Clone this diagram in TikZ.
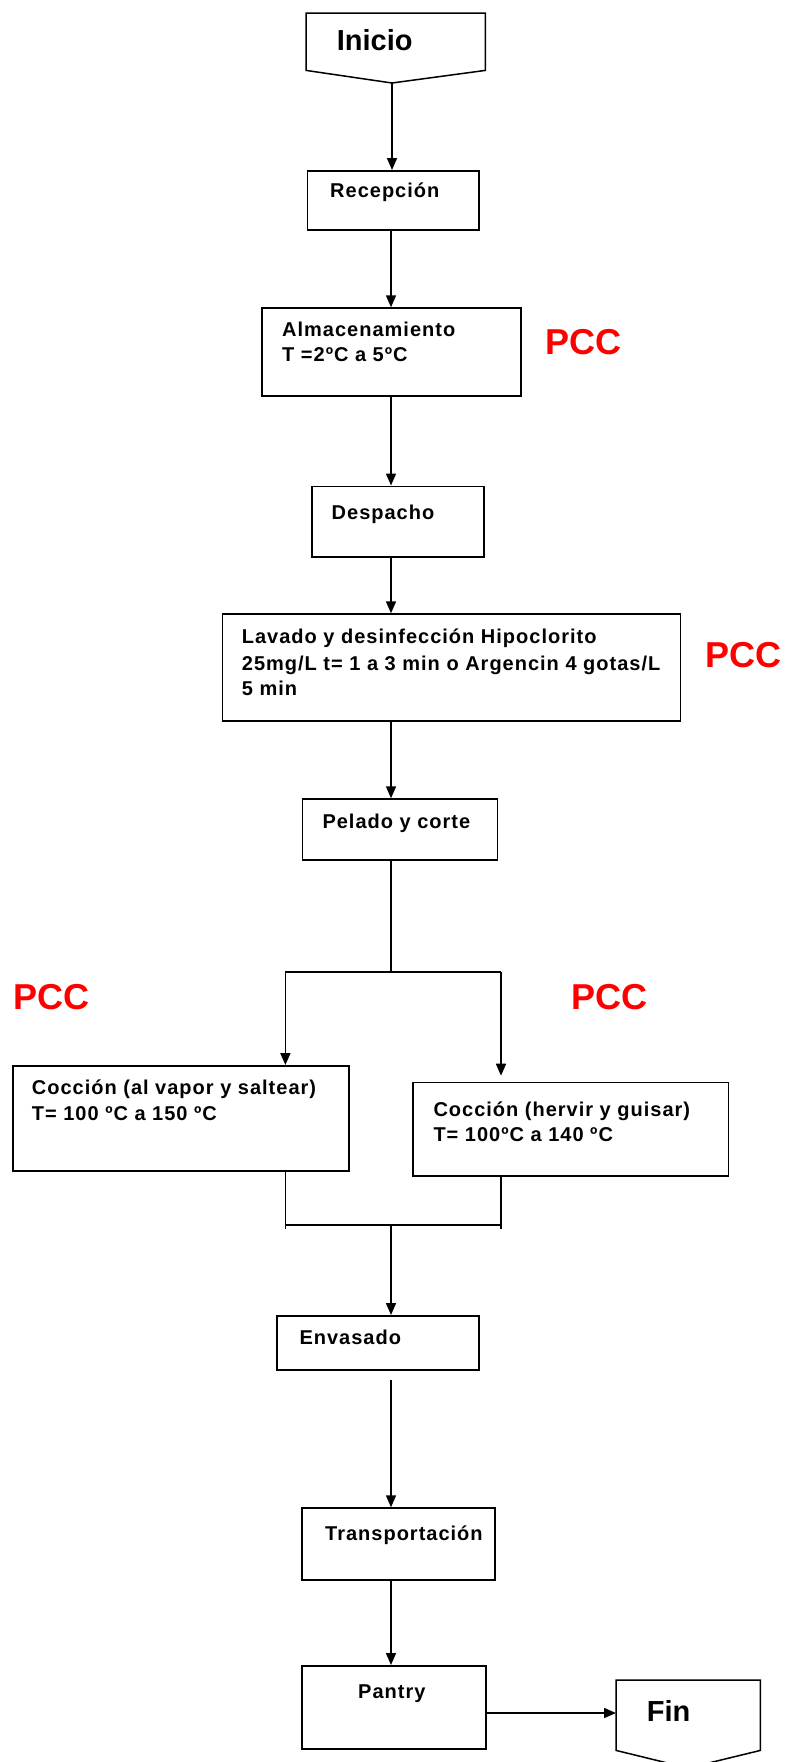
\documentclass[tikz,border=0pt]{standalone}
\usepackage{fontspec}
\setmainfont{Liberation Sans}
\newfontfamily\stepfont{Liberation Sans}[LetterSpace=5]
\usetikzlibrary{arrows.meta,calc}
\definecolor{pccred}{RGB}{255,0,0}

\begin{document}
\begin{tikzpicture}[x=1pt,y=-1pt,
  box/.style={draw,line width=1.7pt,rectangle,inner sep=0,anchor=north west},
  shapebox/.style={rectangle,inner sep=0,anchor=north west},
  txt/.style={anchor=base west,inner sep=0,font=\stepfont\bfseries\fontsize{20}{24}\selectfont},
  big/.style={anchor=base west,inner sep=0,font=\bfseries\fontsize{29}{34}\selectfont},
  pcc/.style={anchor=base west,inner sep=0,text=pccred,font=\bfseries\fontsize{36}{40}\selectfont},
  link/.style={draw,line width=1.7pt},
  flow/.style={link,-{Triangle[length=12pt,width=10pt]}},
]
\useasboundingbox (0,0) rectangle (790,1762);
\fill[white] (0,0) rectangle (790,1762);
\clip (0,0) rectangle (790,1762);

% main vertical axis of the flow
\coordinate (axis) at (391,0);

% start and end terminators (off-page pentagons)
\node[shapebox,minimum width=179pt,minimum height=57pt] (ini) at (306,13) {};
\coordinate (iniTip) at (392,83);
\draw[line width=1.5pt,line join=miter] (ini.north west) -- (ini.north east) -- (ini.south east) -- (iniTip) -- (ini.south west) -- cycle;
\node[big] (iniT) at (336.7,50) {Inicio};

\node[shapebox,minimum width=144pt,minimum height=70pt] (fin) at (616,1680) {};
\coordinate (finTip) at (688,1768);
\draw[line width=1.5pt,line join=miter] (fin.north west) -- (fin.north east) -- (fin.south east) -- (finTip) -- (fin.south west) -- cycle;
\node[big] (finT) at (646.7,1721) {Fin};

% process boxes
\node[box,minimum width=171.6pt,minimum height=59pt]   (recep) at (306.7,170)   {};
\node[box,minimum width=259pt,minimum height=87.7pt]   (alma)  at (261,307.3)   {};
\node[box,minimum width=171.9pt,minimum height=70.8pt] (desp)  at (311.3,485.5) {};
\node[box,minimum width=458pt,minimum height=106.7pt]  (lav)   at (221.7,613.3) {};
\node[box,minimum width=195pt,minimum height=60.7pt]   (pel)   at (301.7,798.3) {};
\node[box,minimum width=336pt,minimum height=105pt]    (cocL)  at (12.3,1065)   {};
\node[box,minimum width=315.4pt,minimum height=93.3pt] (cocR)  at (412.3,1081.7){};
\node[box,minimum width=202.3pt,minimum height=54.3pt] (env)   at (276,1315)    {};
\node[box,minimum width=193pt,minimum height=71.7pt]   (trans) at (301,1507.3)  {};
\node[box,minimum width=184pt,minimum height=83.3pt]   (pan)   at (301,1665)    {};

% box texts
\node[txt] (recepT) at (330,197.3) {Recepción};
\node[txt] (almaT1) at (282,336.7) {Almacenamiento};
\node[txt] (almaT2) at (282,361.7) {T =2ºC a 5ºC};
\node[txt] (despT)  at (331.5,519.5) {Despacho};
\node[txt] (lavT1)  at (241.7,643.3) {Lavado y desinfección Hipoclorito};
\node[txt] (lavT2)  at (241.7,670.5) {25mg/L t= 1 a 3 min o Argencin 4 gotas/L};
\node[txt] (lavT3)  at (241.7,695) {5 min};
\node[txt] (pelT)   at (322.3,828.3) {Pelado y corte};
\node[txt] (cocLT1) at (31.7,1094.3) {Cocción (al vapor y saltear)};
\node[txt] (cocLT2) at (31.7,1120) {T= 100 ºC a 150 ºC};
\node[txt] (cocRT1) at (433.3,1116.7) {Cocción (hervir y guisar)};
\node[txt] (cocRT2) at (433.3,1141.7) {T= 100ºC a 140 ºC};
\node[txt] (envT)   at (299.3,1344.3) {Envasado};
\node[txt] (transT) at (325,1540) {Transportación};
\node[txt] (panT)   at (358,1698.3) {Pantry};

% critical control point marks
\node[pcc] (pcc1) at (545,354) {PCC};
\node[pcc] (pcc2) at (705.7,667.5) {PCC};
\node[pcc] (pcc3) at (13.5,1009.3) {PCC};
\node[pcc] (pcc4) at (571,1009.3) {PCC};

% straight flow
\draw[flow] (iniTip) -- (iniTip |- recep.north);
\draw[flow] (recep.south -| axis) -- (alma.north -| axis);
\draw[flow] (alma.south -| axis) -- (desp.north -| axis);
\draw[flow] (desp.south -| axis) -- (lav.north -| axis);
\draw[flow] (lav.south -| axis) -- (pel.north -| axis);

% split into the two cooking branches
\coordinate (splitL) at (285.4,972);
\coordinate (splitR) at (501,972);
\draw[link] (pel.south -| axis) -- (axis |- splitL);
\draw[link] (splitL) -- (splitR);
\draw[flow] (splitL) -- (splitL |- cocL.north);
\draw[flow,shorten >=6pt] (splitR) -- (splitR |- cocR.north);

% join of the two branches
\coordinate (joinL) at (285.4,1225);
\coordinate (joinR) at (501,1225);
\draw[link] (cocL.south -| joinL) -- ($(joinL)+(0,4)$);
\draw[link] (cocR.south -| joinR) -- ($(joinR)+(0,4)$);
\draw[link] (joinL) -- (joinR);
\draw[flow] (axis |- joinL) -- (env.north -| axis);

% final steps
\draw[flow,shorten <=9pt] (env.south -| axis) -- (trans.north -| axis);
\draw[flow] (trans.south -| axis) -- (pan.north -| axis);
\coordinate (pf) at (0,1713);
\draw[flow] (pan.east |- pf) -- (fin.west |- pf);
\end{tikzpicture}
\end{document}
